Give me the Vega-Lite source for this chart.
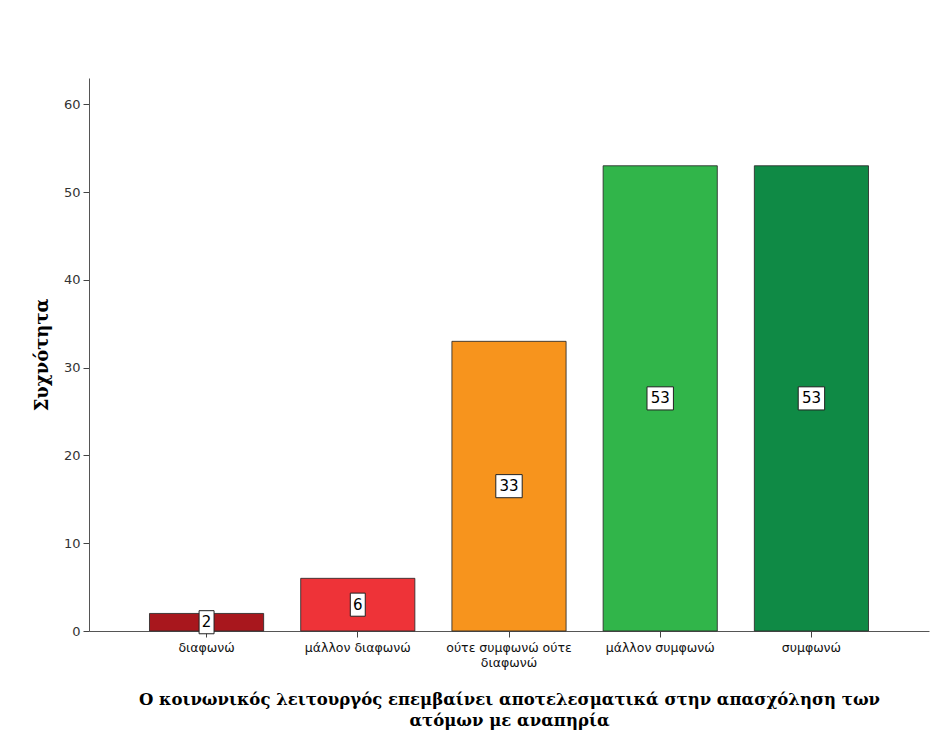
{
  "$schema": "https://vega.github.io/schema/vega-lite/v6.json",
  "autosize": {"type": "none"},
  "padding": {"left": 89, "top": 78, "right": 1, "bottom": 116},
  "width": 840,
  "height": 553,
  "background": "white",
  "config": {"view": {"stroke": null}},
  "data": {
    "values": [
      {"category": "διαφωνώ", "count": 2, "label": "2", "digits": "one"},
      {"category": "μάλλον διαφωνώ", "count": 6, "label": "6", "digits": "one"},
      {"category": "ούτε συμφωνώ ούτε διαφωνώ", "count": 33, "label": "33", "digits": "two"},
      {"category": "μάλλον συμφωνώ", "count": 53, "label": "53", "digits": "two"},
      {"category": "συμφωνώ", "count": 53, "label": "53", "digits": "two"}
    ]
  },
  "encoding": {
    "x": {
      "field": "category",
      "type": "nominal",
      "sort": null,
      "scale": {"paddingInner": 0.245, "paddingOuter": 0.4},
      "axis": {
        "title": ["Ο κοινωνικός λειτουργός επεμβαίνει αποτελεσματικά στην απασχόληση των", "ατόμων με αναπηρία"],
        "titleFont": "DejaVu Serif",
        "titleFontSize": 16.5,
        "titleFontWeight": "bold",
        "titleColor": "#000",
        "titleLineHeight": 21,
        "titlePadding": 23,
        "labelAngle": 0,
        "labelFont": "DejaVu Sans",
        "labelFontSize": 12.5,
        "labelColor": "#111",
        "labelPadding": 4,
        "labelLineHeight": 15,
        "labelExpr": "datum.label == 'ούτε συμφωνώ ούτε διαφωνώ' ? ['ούτε συμφωνώ ούτε', 'διαφωνώ'] : datum.label",
        "tickSize": 6,
        "tickColor": "#444",
        "domainColor": "#555",
        "labelLimit": 200
      }
    }
  },
  "layer": [
    {
      "mark": {"type": "bar", "stroke": "#2a2a2a", "strokeWidth": 1, "strokeOpacity": 0.85},
      "encoding": {
        "y": {
          "field": "count",
          "type": "quantitative",
          "scale": {"domain": [0, 63], "nice": false},
          "axis": {
            "title": "Συχνότητα",
            "titleFont": "DejaVu Serif",
            "titleFontSize": 18,
            "titleFontWeight": "bold",
            "titleColor": "#000",
            "titlePadding": 12,
            "values": [0, 10, 20, 30, 40, 50, 60],
            "labelFont": "DejaVu Sans",
            "labelFontSize": 13,
            "labelColor": "#333",
            "labelPadding": 3,
            "tickSize": 6,
            "tickColor": "#444",
            "domainColor": "#555",
            "grid": false
          }
        },
        "color": {
          "field": "category",
          "type": "nominal",
          "sort": null,
          "scale": {
            "domain": ["διαφωνώ", "μάλλον διαφωνώ", "ούτε συμφωνώ ούτε διαφωνώ", "μάλλον συμφωνώ", "συμφωνώ"],
            "range": ["#a8171d", "#ee3338", "#f7941d", "#31b54a", "#0f8a45"]
          },
          "legend": null
        }
      }
    },
    {
      "transform": [{"calculate": "datum.count / 2", "as": "mid"}],
      "mark": {"type": "point", "filled": true, "fill": "white", "stroke": "#222", "strokeWidth": 1, "opacity": 1},
      "encoding": {
        "y": {"field": "mid", "type": "quantitative"},
        "shape": {
          "field": "digits",
          "type": "nominal",
          "scale": {"domain": ["one", "two"], "range": ["M-0.68,-1.05H0.68V1.05H-0.68Z", "M-1.2,-1.05H1.2V1.05H-1.2Z"]},
          "legend": null
        },
        "size": {"value": 484}
      }
    },
    {
      "transform": [{"calculate": "datum.count / 2", "as": "mid"}],
      "mark": {"type": "text", "font": "DejaVu Sans", "fontSize": 15, "color": "#000", "baseline": "middle", "align": "center"},
      "encoding": {
        "y": {"field": "mid", "type": "quantitative"},
        "text": {"field": "label"}
      }
    }
  ]
}
